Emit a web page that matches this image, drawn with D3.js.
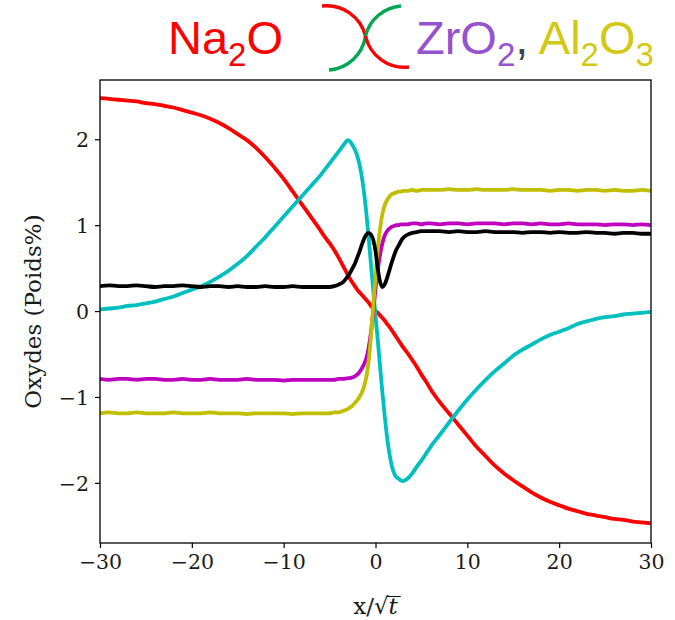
<!DOCTYPE html>
<html>
<head>
<meta charset="utf-8">
<script src="https://cdn.jsdelivr.net/npm/d3@7"></script>
<style>
  html, body { margin: 0; padding: 0; background: #fff; }
  svg { display: block; }
</style>
</head>
<body>
<svg id="chart" width="675" height="620"></svg>
<script>
// Sample positions along x/sqrt(t): coarse in the tails, fine across the interface
const xs = [
  -30,-29,-28,-27,-26,-25,-24,-23,-22,-21,-20,-19,-18,-17,-16,-15,-14,-13,-12,-11,-10,-9,-8,-7,-6,
  -5.5,-5,-4.5,-4,-3.5,
  -3,-2.75,-2.5,-2.25,-2,-1.75,-1.5,-1.25,-1,-0.75,-0.5,-0.25,0,0.25,0.5,0.75,1,1.25,1.5,1.75,2,2.25,2.5,2.75,3,
  3.5,4,4.5,5,5.5,
  6,7,8,9,10,11,12,13,14,15,16,17,18,19,20,21,22,23,24,25,26,27,28,29,30
];

// Oxide profiles (weight %), one value per sample position
const redProfile = [
  2.48,2.47,2.46,2.45,2.44,2.42,2.41,2.39,2.37,2.34,2.31,2.28,2.24,2.19,2.13,2.06,1.99,1.90,1.79,1.67,1.54,1.39,1.24,1.09,0.94,
  0.86,0.79,0.71,0.62,0.52,
  0.42,0.37,0.33,0.29,0.25,0.22,0.19,0.16,0.13,0.10,0.06,0.03,0.00,-0.02,-0.05,-0.08,-0.11,-0.15,-0.18,-0.22,-0.26,-0.30,-0.34,-0.38,-0.42,
  -0.49,-0.57,-0.65,-0.74,-0.82,
  -0.91,-1.06,-1.19,-1.32,-1.45,-1.58,-1.69,-1.80,-1.89,-1.97,-2.04,-2.11,-2.17,-2.22,-2.26,-2.30,-2.33,-2.36,-2.38,-2.40,-2.42,-2.43,-2.45,-2.46,-2.47
];
const cyanProfile = [
  0.02,0.03,0.04,0.06,0.07,0.09,0.11,0.14,0.17,0.21,0.25,0.29,0.34,0.40,0.47,0.55,0.64,0.75,0.86,0.98,1.10,1.22,1.34,1.46,1.58,
  1.65,1.72,1.79,1.86,1.93,
  1.99,1.97,1.93,1.88,1.81,1.71,1.57,1.38,1.14,0.86,0.55,0.25,-0.06,-0.34,-0.65,-0.95,-1.22,-1.46,-1.65,-1.79,-1.88,-1.93,-1.95,-1.97,-1.98,
  -1.95,-1.89,-1.81,-1.74,-1.66,
  -1.58,-1.44,-1.30,-1.16,-1.03,-0.91,-0.80,-0.70,-0.61,-0.52,-0.45,-0.39,-0.33,-0.28,-0.24,-0.20,-0.15,-0.12,-0.09,-0.07,-0.06,-0.04,-0.03,-0.02,-0.01
];
const magentaProfile = [
  -0.79,-0.80,-0.79,-0.79,-0.80,-0.79,-0.79,-0.80,-0.80,-0.79,-0.80,-0.80,-0.79,-0.80,-0.80,-0.80,-0.79,-0.80,-0.80,-0.80,-0.81,-0.80,-0.80,-0.80,-0.80,
  -0.80,-0.80,-0.80,-0.79,-0.79,
  -0.78,-0.78,-0.77,-0.76,-0.74,-0.71,-0.67,-0.62,-0.55,-0.43,-0.25,-0.01,0.26,0.48,0.66,0.79,0.88,0.93,0.96,0.98,0.99,1.00,1.00,1.01,1.01,
  1.01,1.02,1.02,1.01,1.02,
  1.02,1.01,1.02,1.02,1.01,1.02,1.02,1.02,1.01,1.02,1.02,1.01,1.02,1.01,1.01,1.02,1.01,1.01,1.01,1.00,1.01,1.01,1.00,1.01,1.00
];
const yellowProfile = [
  -1.19,-1.18,-1.19,-1.19,-1.18,-1.19,-1.19,-1.19,-1.18,-1.19,-1.19,-1.19,-1.18,-1.19,-1.19,-1.19,-1.20,-1.19,-1.19,-1.19,-1.19,-1.20,-1.19,-1.19,-1.19,
  -1.19,-1.19,-1.18,-1.18,-1.16,
  -1.14,-1.12,-1.10,-1.07,-1.04,-1.00,-0.95,-0.88,-0.77,-0.59,-0.30,0.05,0.40,0.72,0.96,1.13,1.23,1.29,1.33,1.36,1.37,1.38,1.39,1.39,1.40,
  1.40,1.41,1.40,1.41,1.41,
  1.41,1.41,1.42,1.41,1.41,1.42,1.41,1.41,1.41,1.42,1.41,1.41,1.41,1.40,1.41,1.41,1.40,1.41,1.41,1.40,1.41,1.40,1.40,1.41,1.40
];
const blackProfile = [
  0.29,0.30,0.29,0.29,0.30,0.29,0.28,0.29,0.29,0.30,0.29,0.28,0.29,0.29,0.28,0.29,0.28,0.28,0.29,0.28,0.28,0.29,0.28,0.28,0.28,
  0.28,0.28,0.29,0.31,0.34,
  0.41,0.45,0.50,0.55,0.62,0.69,0.77,0.84,0.89,0.91,0.89,0.83,0.70,0.49,0.34,0.28,0.31,0.38,0.47,0.56,0.64,0.71,0.76,0.81,0.85,
  0.89,0.91,0.92,0.93,0.93,
  0.93,0.93,0.92,0.93,0.92,0.92,0.93,0.92,0.92,0.92,0.91,0.92,0.92,0.91,0.92,0.91,0.91,0.92,0.91,0.91,0.90,0.91,0.91,0.90,0.90
];

const xTicks = [-30, -20, -10, 0, 10, 20, 30];
const yTicks = [-2, -1, 0, 1, 2];
const xDomain = [-30, 30];
const yDomain = [-2.7, 2.69];

// Drawing order and line colours
const series = [
  { values: redProfile,     color: "#ff0000" },
  { values: cyanProfile,    color: "#00bfbf" },
  { values: magentaProfile, color: "#bf00bf" },
  { values: yellowProfile,  color: "#bfbf00" },
  { values: blackProfile,   color: "#000000" }
];

const svg = d3.select("#chart");
const plot = { left: 100, right: 651, top: 80, bottom: 543 };

const x = d3.scaleLinear().domain(xDomain).range([plot.left, plot.right]);
const y = d3.scaleLinear().domain(yDomain).range([plot.bottom, plot.top]);

svg.append("defs").append("clipPath").attr("id", "plot-clip")
  .append("rect")
  .attr("x", plot.left).attr("y", plot.top)
  .attr("width", plot.right - plot.left).attr("height", plot.bottom - plot.top);

const line = d3.line()
  .x((d, i) => x(xs[i]))
  .y(d => y(d))
  .curve(d3.curveMonotoneX);

svg.append("g").attr("clip-path", "url(#plot-clip)")
  .selectAll("path")
  .data(series)
  .join("path")
  .attr("d", s => line(s.values))
  .attr("fill", "none")
  .attr("stroke", s => s.color)
  .attr("stroke-width", 3.8)
  .attr("stroke-linejoin", "round")
  .attr("stroke-linecap", "round");

// Axes
const tickFont = "'DejaVu Serif', serif";
const xAxis = d3.axisBottom(x).tickValues(xTicks).tickSize(5).tickPadding(6).tickFormat(d3.format("d"));
const yAxis = d3.axisLeft(y).tickValues(yTicks).tickSize(5).tickPadding(6).tickFormat(d3.format("d"));

const gx = svg.append("g").attr("transform", `translate(0,${plot.bottom})`).call(xAxis);
const gy = svg.append("g").attr("transform", `translate(${plot.left},0)`).call(yAxis);
[gx, gy].forEach(g => {
  g.select(".domain").remove();
  g.selectAll(".tick line").attr("stroke", "#000").attr("stroke-width", 1.2);
  g.selectAll(".tick text")
    .attr("fill", "#1a1a1a")
    .style("font-family", tickFont)
    .style("font-size", "20.5px");
});
gy.selectAll(".tick text").attr("dy", "0.36em");

// Frame
svg.append("rect")
  .attr("x", plot.left).attr("y", plot.top)
  .attr("width", plot.right - plot.left).attr("height", plot.bottom - plot.top)
  .attr("fill", "none").attr("stroke", "#000").attr("stroke-width", 1.3);

// Axis titles
svg.append("text")
  .attr("transform", `translate(41,${(plot.top + plot.bottom) / 2}) rotate(-90)`)
  .attr("text-anchor", "middle")
  .attr("fill", "#1a1a1a")
  .style("font-family", tickFont)
  .style("font-size", "23px")
  .text("Oxydes (Poids%)");

const xl = svg.append("text")
  .attr("x", (plot.left + plot.right) / 2)
  .attr("y", 614)
  .attr("text-anchor", "middle")
  .attr("fill", "#1a1a1a")
  .style("font-family", tickFont)
  .style("font-size", "23px");
xl.append("tspan").text("x/√");
xl.append("tspan").attr("font-style", "italic").text("t");
// vinculum of the square root over t
const rootBox = xl.node().getExtentOfChar(2);
const tBox = xl.node().getExtentOfChar(3);
svg.append("line")
  .attr("x1", rootBox.x + rootBox.width - 1.5)
  .attr("x2", tBox.x + tBox.width + 3)
  .attr("y1", rootBox.y + 3.5).attr("y2", rootBox.y + 3.5)
  .attr("stroke", "#1a1a1a").attr("stroke-width", 1.1);

// Heading: Na2O  )(  ZrO2, Al2O3
const headFont = "'Liberation Sans', Arial, sans-serif";
const subShift = 12;

const na = svg.append("text")
  .attr("x", 168).attr("y", 54)
  .attr("fill", "#ff0000")
  .style("font-family", headFont).style("font-size", "47px");
na.append("tspan").text("Na");
na.append("tspan").attr("dy", subShift).style("font-size", "33px").text("2");
na.append("tspan").attr("dy", -subShift).text("O");

const oxides = svg.append("text")
  .attr("x", 416).attr("y", 54)
  .style("font-family", headFont).style("font-size", "47px");
oxides.append("tspan").attr("fill", "#9652cf").text("ZrO");
oxides.append("tspan").attr("fill", "#9652cf").attr("dy", subShift).style("font-size", "33px").text("2");
oxides.append("tspan").attr("fill", "#444").attr("dy", -subShift).text(", ");
oxides.append("tspan").attr("fill", "#d2c914").text("Al");
oxides.append("tspan").attr("fill", "#d2c914").attr("dy", subShift).style("font-size", "33px").text("2");
oxides.append("tspan").attr("fill", "#d2c914").attr("dy", -subShift).text("O");
oxides.append("tspan").attr("fill", "#d2c914").attr("dy", subShift).style("font-size", "33px").text("3");

// Two touching arcs between the labels
const cross = [365.5, 36];
const arcs = [
  { d: `M322,6 A40,40 0 0,1 ${cross[0]},${cross[1]}`, color: "#ff0000" },
  { d: `M${cross[0]},${cross[1]} A40,40 0 0,1 329,70`, color: "#00a651" },
  { d: `M401,6 A40,40 0 0,0 ${cross[0]},${cross[1]}`, color: "#00a651" },
  { d: `M${cross[0]},${cross[1]} A40,40 0 0,0 409,67`, color: "#ff0000" }
];
svg.append("g").selectAll("path").data(arcs).join("path")
  .attr("d", a => a.d)
  .attr("fill", "none")
  .attr("stroke", a => a.color)
  .attr("stroke-width", 3.4);
</script>
</body>
</html>
